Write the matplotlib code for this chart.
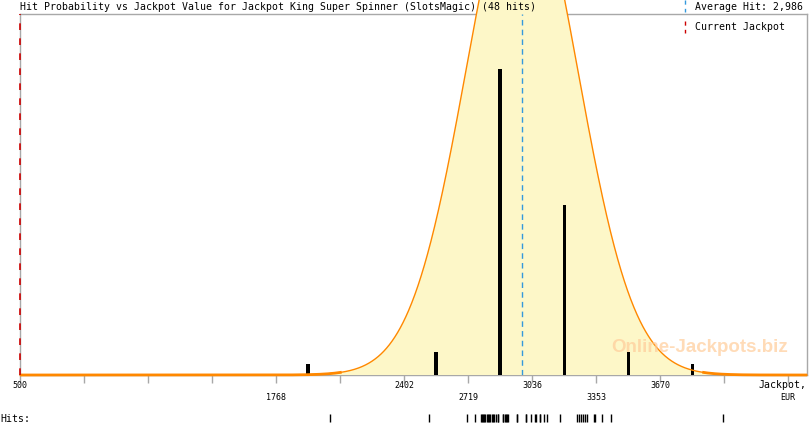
import numpy as np
import matplotlib
matplotlib.use("Agg")
import matplotlib.pyplot as plt
from matplotlib.lines import Line2D
import matplotlib.transforms as mtransforms

# ---------------- data ----------------
title = "Hit Probability vs Jackpot Value for Jackpot King Super Spinner (SlotsMagic) (48 hits)"
bin_edges = [500, 817, 1134, 1451, 1768, 2085, 2402, 2719, 3036, 3353, 3670, 3987, 4304]
upper_labels = {500: "500", 2402: "2402", 3036: "3036", 3670: "3670"}
lower_labels = {1768: "1768", 2719: "2719", 3353: "3353"}
hits = [2035,
        2526, 2714,
        2754, 2785, 2790, 2795, 2800, 2805, 2815, 2820, 2825, 2830, 2840, 2845,
        2850, 2860, 2868, 2870, 2890, 2893, 2900, 2905, 2910, 2915, 2960, 2962,
        3005, 3008, 3030,
        3051, 3055, 3075, 3078, 3095, 3110, 3174, 3260, 3270, 3280, 3290, 3300,
        3308, 3345, 3348,
        3383, 3427,
        3982]
average_hit = 2986
hit_sigma = 277
curve_peak = 44.4
current_jackpot = 500
x_max = 4398
y_max = 31.9

# ---------------- figure ----------------
W, H = 810, 425
fig = plt.figure(figsize=(W / 100, H / 100), dpi=100)
ax_l, ax_r, ax_t, ax_b = 20, 807, 14, 375
ax = fig.add_axes([ax_l / W, 1 - ax_b / H, (ax_r - ax_l) / W, (ax_b - ax_t) / H])
ax.set_xlim(bin_edges[0], x_max)
ax.set_ylim(0, y_max)

mono = "DejaVu Sans Mono"
gray = "#a8a8a8"
orange = "#ff8800"

# Gaussian fit curve (extends above the frame, as in the original)
xs = np.linspace(bin_edges[0], x_max, 2000)
ys = curve_peak * np.exp(-0.5 * ((xs - average_hit) / hit_sigma) ** 2)
ax.fill_between(xs, 0, ys, color="#fdf7c8", zorder=2.6, lw=0, clip_on=False)
ax.plot(xs, ys, color=orange, lw=1.0, zorder=4, clip_on=False)
tail = np.where(ys < 0.25, ys, np.nan)
ax.plot(xs, tail, color=orange, lw=2.0, zorder=4, clip_on=False,
        solid_capstyle="butt")

# histogram bars
counts, edges = np.histogram(hits, bins=bin_edges)
centers = (edges[:-1] + edges[1:]) / 2
ax.bar(centers, counts, width=15, color="black", zorder=3)

# average & current jackpot lines
ax.axvline(average_hit, color="#3399dd", lw=1, ls=(0, (4, 3)), zorder=2.8)
ax.axvline(current_jackpot, color="#cc0000", lw=1.2, ls=(0, (4, 5)), zorder=5,
           clip_on=False)

# spines / ticks
for s in ax.spines.values():
    s.set_color(gray)
    s.set_linewidth(1)
ax.set_yticks([])
ax.set_xticks(bin_edges)
ax.set_xticklabels([])
ax.tick_params(axis="x", length=6, width=1, color=gray, direction="out")

xtr = ax.get_xaxis_transform()
for v, lab in upper_labels.items():
    tr = mtransforms.offset_copy(xtr, fig=fig, y=-10, units="dots")
    ax.text(v, 0, lab, transform=tr, ha="center", va="center",
            family=mono, fontsize=6)
for v, lab in lower_labels.items():
    tr = mtransforms.offset_copy(xtr, fig=fig, y=-23, units="dots")
    ax.text(v, 0, lab, transform=tr, ha="center", va="center",
            family=mono, fontsize=6)

fig.text(806 / W, 1 - 385 / H, "Jackpot,", ha="right", va="center",
         family=mono, fontsize=7.1)
fig.text(788 / W, 1 - 398 / H, "EUR", ha="center", va="center",
         family=mono, fontsize=6)

# rug of hits
ax.vlines(hits, -39 / (ax_b - ax_t), -47 / (ax_b - ax_t), transform=xtr,
          color="black", lw=1, clip_on=False)
fig.text(0, 1 - 419 / H, "Hits:", ha="left", va="center",
         family=mono, fontsize=7.1)

# title
fig.text(20 / W, 1 - 7 / H, title, ha="left", va="center",
         family=mono, fontsize=7.1)

# legend
fig.add_artist(Line2D([685 / W, 685 / W], [1 - 0 / H, 1 - 12 / H],
                      transform=fig.transFigure, color="#3399dd", lw=1,
                      ls=(0, (3, 3))))
fig.add_artist(Line2D([685 / W, 685 / W], [1 - 21 / H, 1 - 33 / H],
                      transform=fig.transFigure, color="#cc0000", lw=1,
                      ls=(0, (3, 3))))
fig.text(695 / W, 1 - 7 / H, "Average Hit: 2,986", ha="left", va="center",
         family=mono, fontsize=7.1)
fig.text(695 / W, 1 - 27 / H, "Current Jackpot", ha="left", va="center",
         family=mono, fontsize=7.1)

# watermark
fig.text(700 / W, 1 - 347 / H, "Online-Jackpots.biz", ha="center", va="center",
         family="Liberation Sans", fontweight="bold", fontsize=13.5,
         color="#ffcc99", alpha=0.7, zorder=10)

fig.savefig("out.png", dpi=100)
